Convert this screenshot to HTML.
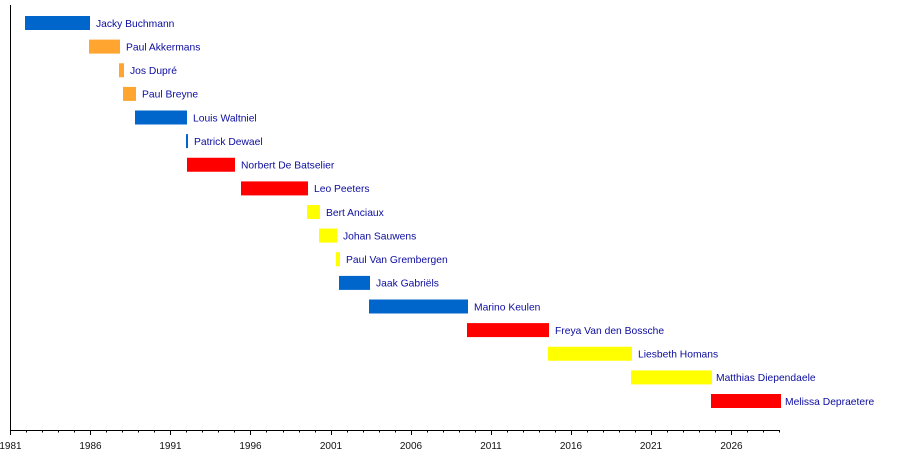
<!DOCTYPE html>
<html><head><meta charset="utf-8"><style>
html,body{margin:0;padding:0;background:#fff;}
svg{display:block;}
.l{font-family:"Liberation Sans",Arial,sans-serif;font-size:10.3px;fill:#0c0ca0;}
.a{font-family:"Liberation Sans",Arial,sans-serif;font-size:10px;fill:#111;text-anchor:middle;}
</style></head><body>
<svg width="900" height="450" viewBox="0 0 900 450" xmlns="http://www.w3.org/2000/svg">
<rect width="900" height="450" fill="#fff"/>
<!-- bars -->
<rect x="25" y="16" width="65" height="14" fill="#0066cc"/>
<rect x="89" y="39.6" width="31" height="14" fill="#ffa530"/>
<rect x="119" y="63.25" width="5" height="14" fill="#ffa530"/>
<rect x="123" y="86.9" width="13" height="14" fill="#ffa530"/>
<rect x="135" y="110.5" width="52" height="14" fill="#0066cc"/>
<rect x="186" y="134.1" width="2" height="14" fill="#0066cc"/>
<rect x="187" y="157.75" width="48" height="14" fill="#ff0000"/>
<rect x="241" y="181.4" width="67" height="14" fill="#ff0000"/>
<rect x="307" y="205" width="13" height="14" fill="#ffff00"/>
<rect x="319" y="228.6" width="18" height="14" fill="#ffff00"/>
<rect x="336" y="252.25" width="4" height="14" fill="#ffff00"/>
<rect x="339" y="275.9" width="31" height="14" fill="#0066cc"/>
<rect x="369" y="299.5" width="99" height="14" fill="#0066cc"/>
<rect x="467" y="323.1" width="82" height="14" fill="#ff0000"/>
<rect x="548" y="346.75" width="84" height="14" fill="#ffff00"/>
<rect x="631" y="370.4" width="81" height="14" fill="#ffff00"/>
<rect x="711" y="394" width="70" height="14" fill="#ff0000"/>
<!-- labels -->
<text class="l" x="96" y="26.8">Jacky Buchmann</text>
<text class="l" x="126" y="50.4">Paul Akkermans</text>
<text class="l" x="130" y="74.05">Jos Dupré</text>
<text class="l" x="142" y="97.7">Paul Breyne</text>
<text class="l" x="193" y="121.3">Louis Waltniel</text>
<text class="l" x="194" y="144.9">Patrick Dewael</text>
<text class="l" x="241" y="168.55">Norbert De Batselier</text>
<text class="l" x="314" y="192.2">Leo Peeters</text>
<text class="l" x="326" y="215.8">Bert Anciaux</text>
<text class="l" x="343" y="239.4">Johan Sauwens</text>
<text class="l" x="346" y="263.05">Paul Van Grembergen</text>
<text class="l" x="376" y="286.7">Jaak Gabriëls</text>
<text class="l" x="474" y="310.3">Marino Keulen</text>
<text class="l" x="555" y="333.9">Freya Van den Bossche</text>
<text class="l" x="638" y="357.55">Liesbeth Homans</text>
<text class="l" x="716" y="381.2">Matthias Diependaele</text>
<text class="l" x="785" y="404.8">Melissa Depraetere</text>
<!-- axes -->
<path d="M10.5 5V430.5H780" stroke="#000" stroke-width="1" fill="none"/>
<path stroke="#000" stroke-width="1" fill="none" d="
M10.5 430v5 M26.5 430v2.5 M42.5 430v2.5 M58.5 430v2.5 M74.5 430v2.5
M90.5 430v5 M106.5 430v2.5 M122.5 430v2.5 M138.5 430v2.5 M154.5 430v2.5
M170.5 430v5 M186.5 430v2.5 M202.5 430v2.5 M218.5 430v2.5 M234.5 430v2.5
M250.5 430v5 M266.5 430v2.5 M283.5 430v2.5 M299.5 430v2.5 M315.5 430v2.5
M331.5 430v5 M347.5 430v2.5 M363.5 430v2.5 M379.5 430v2.5 M395.5 430v2.5
M411.5 430v5 M427.5 430v2.5 M443.5 430v2.5 M459.5 430v2.5 M475.5 430v2.5
M491.5 430v5 M507.5 430v2.5 M523.5 430v2.5 M539.5 430v2.5 M555.5 430v2.5
M571.5 430v5 M587.5 430v2.5 M603.5 430v2.5 M619.5 430v2.5 M635.5 430v2.5
M651.5 430v5 M667.5 430v2.5 M683.5 430v2.5 M699.5 430v2.5 M715.5 430v2.5
M731.5 430v5 M747.5 430v2.5 M763.5 430v2.5 M779.5 430v2.5"/>
<text class="a" x="10.5" y="449">1981</text>
<text class="a" x="90.5" y="449">1986</text>
<text class="a" x="170.5" y="449">1991</text>
<text class="a" x="250.5" y="449">1996</text>
<text class="a" x="331" y="449">2001</text>
<text class="a" x="411" y="449">2006</text>
<text class="a" x="491" y="449">2011</text>
<text class="a" x="571" y="449">2016</text>
<text class="a" x="651" y="449">2021</text>
<text class="a" x="731.5" y="449">2026</text>
</svg>
</body></html>
